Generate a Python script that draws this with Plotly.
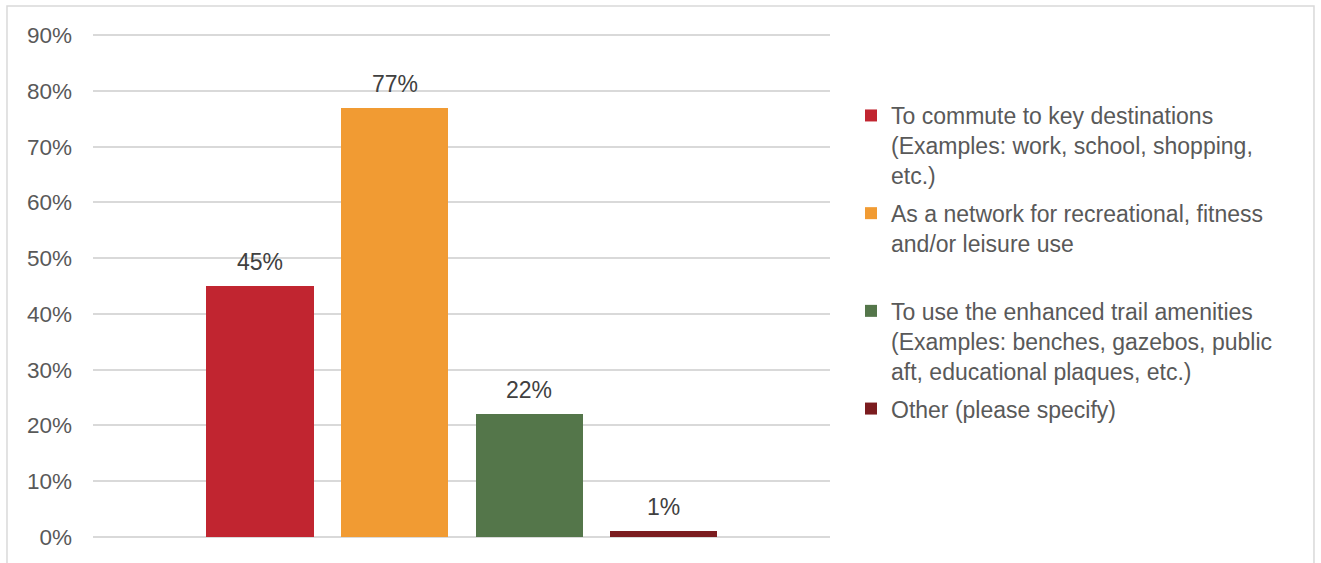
import plotly.graph_objects as go

# ---- data ----
series_names = [
    "To commute to key destinations<br>(Examples: work, school, shopping,<br>etc.)",
    "As a network for recreational, fitness<br>and/or leisure use<br> ",
    "To use the enhanced trail amenities<br>(Examples: benches, gazebos, public<br>aft, educational plaques, etc.)",
    "Other (please specify)",
]
values = [0.45, 0.77, 0.22, 0.01]
colors = ["#C12530", "#F19B33", "#54764A", "#7B1C1F"]
tick_vals = [0, 0.1, 0.2, 0.3, 0.4, 0.5, 0.6, 0.7, 0.8, 0.9]
tick_text = ["0%", "10%", "20%", "30%", "40%", "50%", "60%", "70%", "80%", "90%"]

FONT = "Liberation Sans, Arial, sans-serif"

fig = go.Figure()
for i, (name, v, c) in enumerate(zip(series_names, values, colors)):
    fig.add_trace(go.Bar(
        x=[i], y=[v], name=name, width=0.795,
        marker=dict(color=c, line=dict(width=0)),
        legendgroup=f"g{i}", hoverinfo="skip",
    ))
    fig.add_annotation(
        x=i, y=v, xref="x", yref="y", text=f"{round(v*100)}%",
        showarrow=False, yanchor="bottom", yshift=9,
        font=dict(family=FONT, size=23, color="#404040"),
    )

# outer chart border
fig.add_shape(type="rect", xref="paper", yref="paper",
              x0=-0.1167, x1=1.6567, y0=-0.2, y1=1.0556,
              line=dict(color="#D9D9D9", width=1.5), layer="below")

fig.update_layout(
    width=1321, height=563,
    margin=dict(l=93, r=491, t=34, b=26),
    paper_bgcolor="white", plot_bgcolor="white",
    font=dict(family=FONT, color="#595959"),
    showlegend=True,
    legend=dict(
        x=1.0285, xanchor="left", y=0.8807, yanchor="top",
        font=dict(family=FONT, size=23, color="#595959"),
        valign="top", tracegroupgap=5, traceorder="grouped",
        bgcolor="rgba(0,0,0,0)",
    ),
    xaxis=dict(range=[-1.240, 4.233], showticklabels=False, showgrid=False,
               zeroline=False, showline=False, ticks=""),
    yaxis=dict(range=[0, 0.902], tickvals=tick_vals, ticktext=tick_text,
               showgrid=True, gridcolor="#D9D9D9", gridwidth=1.5,
               zeroline=True, zerolinecolor="#D9D9D9", zerolinewidth=1.5,
               showline=False, ticks="", ticklabelstandoff=20,
               tickfont=dict(family=FONT, size=22.5, color="#595959")),
    bargap=0,
)

fig.write_html("out.html")
